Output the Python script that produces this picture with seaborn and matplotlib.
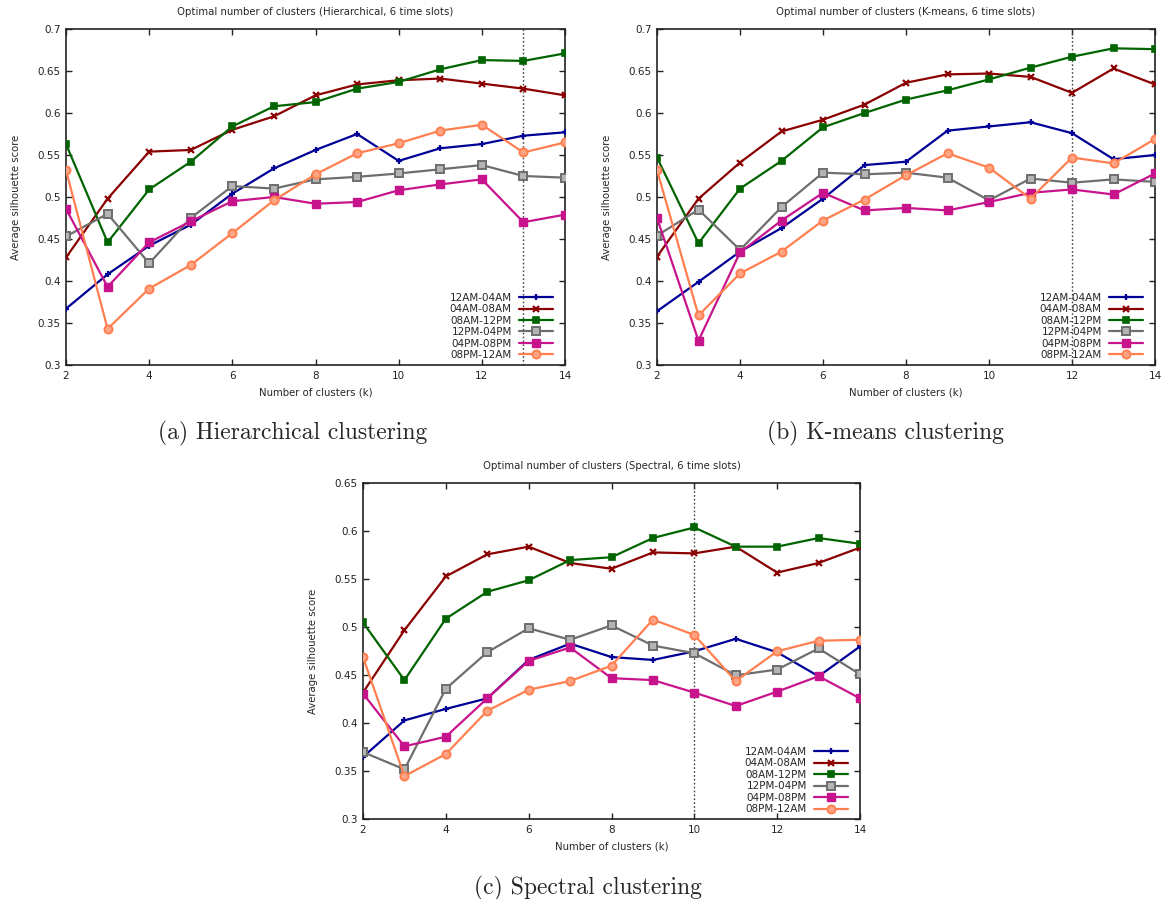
import matplotlib
matplotlib.use("Agg")
import matplotlib.pyplot as plt
import matplotlib.ticker as mticker
import numpy as np
import pandas as pd
import seaborn as sns

# Number of clusters evaluated
k_values = [2, 3, 4, 5, 6, 7, 8, 9, 10, 11, 12, 13, 14]
time_slots = ["12AM-04AM", "04AM-08AM", "08AM-12PM", "12PM-04PM", "04PM-08PM", "08PM-12AM"]

# Average silhouette scores, hierarchical clustering
hier_12am_04am = [0.367, 0.408, 0.442, 0.467, 0.504, 0.534, 0.556, 0.575, 0.543, 0.558, 0.563, 0.573, 0.577]
hier_04am_08am = [0.428, 0.498, 0.554, 0.556, 0.580, 0.596, 0.621, 0.634, 0.639, 0.641, 0.635, 0.629, 0.621]
hier_08am_12pm = [0.563, 0.446, 0.509, 0.542, 0.584, 0.608, 0.613, 0.629, 0.637, 0.652, 0.663, 0.662, 0.671]
hier_12pm_04pm = [0.453, 0.480, 0.421, 0.475, 0.513, 0.510, 0.521, 0.524, 0.528, 0.533, 0.538, 0.525, 0.523]
hier_04pm_08pm = [0.486, 0.393, 0.446, 0.471, 0.495, 0.500, 0.492, 0.494, 0.508, 0.515, 0.521, 0.470, 0.479]
hier_08pm_12am = [0.532, 0.343, 0.391, 0.419, 0.457, 0.496, 0.527, 0.552, 0.564, 0.579, 0.586, 0.553, 0.565]

# Average silhouette scores, K-means clustering
km_12am_04am = [0.364, 0.399, 0.435, 0.463, 0.498, 0.538, 0.542, 0.579, 0.584, 0.589, 0.576, 0.545, 0.550]
km_04am_08am = [0.429, 0.498, 0.541, 0.578, 0.592, 0.610, 0.636, 0.646, 0.647, 0.643, 0.624, 0.653, 0.634]
km_08am_12pm = [0.547, 0.445, 0.510, 0.543, 0.583, 0.600, 0.616, 0.627, 0.640, 0.654, 0.667, 0.677, 0.676]
km_12pm_04pm = [0.454, 0.485, 0.437, 0.488, 0.529, 0.527, 0.529, 0.523, 0.496, 0.522, 0.517, 0.521, 0.518]
km_04pm_08pm = [0.475, 0.329, 0.434, 0.472, 0.505, 0.484, 0.487, 0.484, 0.494, 0.505, 0.509, 0.503, 0.528]
km_08pm_12am = [0.532, 0.359, 0.409, 0.435, 0.472, 0.497, 0.526, 0.552, 0.535, 0.498, 0.547, 0.540, 0.569]

# Average silhouette scores, spectral clustering
sp_12am_04am = [0.365, 0.403, 0.415, 0.426, 0.466, 0.483, 0.469, 0.466, 0.475, 0.488, 0.474, 0.449, 0.480]
sp_04am_08am = [0.432, 0.497, 0.553, 0.576, 0.584, 0.567, 0.561, 0.578, 0.577, 0.584, 0.557, 0.567, 0.583]
sp_08am_12pm = [0.505, 0.445, 0.509, 0.537, 0.549, 0.570, 0.573, 0.593, 0.604, 0.584, 0.584, 0.593, 0.587]
sp_12pm_04pm = [0.370, 0.352, 0.436, 0.474, 0.499, 0.487, 0.502, 0.481, 0.473, 0.450, 0.456, 0.478, 0.451]
sp_04pm_08pm = [0.431, 0.376, 0.386, 0.426, 0.465, 0.479, 0.447, 0.445, 0.432, 0.418, 0.433, 0.449, 0.426]
sp_08pm_12am = [0.469, 0.345, 0.368, 0.413, 0.435, 0.444, 0.460, 0.508, 0.492, 0.444, 0.475, 0.486, 0.487]

# Chosen number of clusters per method (dotted marker line)
best_k_hier = 13
best_k_km = 12
best_k_sp = 10

titles = [
    "Optimal number of clusters (Hierarchical, 6 time slots)",
    "Optimal number of clusters (K-means, 6 time slots)",
    "Optimal number of clusters (Spectral, 6 time slots)",
]
captions = ["(a) Hierarchical clustering", "(b) K-means clustering", "(c) Spectral clustering"]

sns.set_style("ticks", {"xtick.direction": "in", "ytick.direction": "in"})
plt.rcParams["font.family"] = ["DejaVu Sans"]

# Line styles per time slot (gnuplot-like)
styles = {
    "12AM-04AM": dict(color="#000096", marker="+", ms=5, mew=1.6, mfc="#000096"),
    "04AM-08AM": dict(color="#8b0000", marker="x", ms=4.5, mew=1.6, mfc="#8b0000"),
    "08AM-12PM": dict(color="#006400", marker="s", ms=4.0, mew=1.2, mfc="#006400"),
    "12PM-04PM": dict(color="#6e6e6e", marker="s", ms=5.2, mew=1.4, mfc="#b4b4b4"),
    "04PM-08PM": dict(color="#c8148c", marker="s", ms=5.2, mew=1.0, mfc="#c8148c"),
    "08PM-12AM": dict(color="#ff7f50", marker="o", ms=5.8, mew=1.4, mfc="#ffa585"),
}


def build_frame(series):
    rows = []
    for slot, vals in zip(time_slots, series):
        for k, v in zip(k_values, vals):
            rows.append({"k": k, "score": v, "slot": slot})
    return pd.DataFrame(rows)


panels = [
    (build_frame([hier_12am_04am, hier_04am_08am, hier_08am_12pm, hier_12pm_04pm, hier_04pm_08pm, hier_08pm_12am]),
     (0.3, 0.7), best_k_hier),
    (build_frame([km_12am_04am, km_04am_08am, km_08am_12pm, km_12pm_04pm, km_04pm_08pm, km_08pm_12am]),
     (0.3, 0.7), best_k_km),
    (build_frame([sp_12am_04am, sp_04am_08am, sp_08am_12pm, sp_12pm_04pm, sp_04pm_08pm, sp_08pm_12am]),
     (0.3, 0.65), best_k_sp),
]

W, H = 1163, 899
fig = plt.figure(figsize=(W / 100, H / 100), dpi=100)
fig.patch.set_facecolor("white")

# Axes rectangles in pixels: left, right, top, bottom
boxes = [(66, 565, 29, 365), (657, 1155, 29, 365), (363, 860, 483.3, 819.3)]
caption_pos = [(293, 433), (885, 433), (588, 888)]

fs = 7.5
for (df, ylim, best_k), (l, r, t, b), title, cap, cpos in zip(panels, boxes, titles, captions, caption_pos):
    ax = fig.add_axes([l / W, 1 - b / H, (r - l) / W, (b - t) / H])
    ax.axvline(best_k, color="#444444", lw=1.0, ls=(0, (1.2, 1.6)), zorder=1)
    for slot in time_slots:
        st = styles[slot]
        sub = df[df["slot"] == slot]
        sns.lineplot(data=sub, x="k", y="score", ax=ax, color=st["color"], marker=st["marker"],
                     markersize=st["ms"], markeredgewidth=st["mew"], markerfacecolor=st["mfc"],
                     markeredgecolor=st["color"], linewidth=1.6, label=slot, zorder=3)
    ax.set_xlim(2, 14)
    ax.set_ylim(*ylim)
    ax.set_xticks(range(2, 15, 2))
    ax.set_yticks(np.arange(ylim[0], ylim[1] + 1e-9, 0.05))
    ax.yaxis.set_major_formatter(mticker.FuncFormatter(lambda v, p: f"{v:g}"))
    ax.tick_params(axis="both", which="both", direction="in", top=True, right=True,
                   length=4, width=1.0, labelsize=fs, colors="#222222", pad=4)
    for sp in ax.spines.values():
        sp.set_linewidth(1.2)
        sp.set_color("#222222")
    ax.set_title(title, fontsize=7.3, pad=10)
    ax.set_xlabel("Number of clusters (k)", fontsize=7.3, labelpad=5)
    ax.set_ylabel("Average silhouette score", fontsize=7.3, labelpad=12)
    ax_w = r - l
    ax_h = b - t
    ax.legend(loc="lower right", bbox_to_anchor=(1 - 12 / ax_w, 5 / ax_h), frameon=False,
              markerfirst=False, fontsize=7.5, handlelength=3.3, handletextpad=0.65,
              labelspacing=0.14, borderaxespad=0, borderpad=0)
    fig.text(cpos[0] / W, 1 - cpos[1] / H, cap, ha="center", va="center",
             fontsize=17, family="cmr10")

fig.savefig("out.png", dpi=100, facecolor="white")
